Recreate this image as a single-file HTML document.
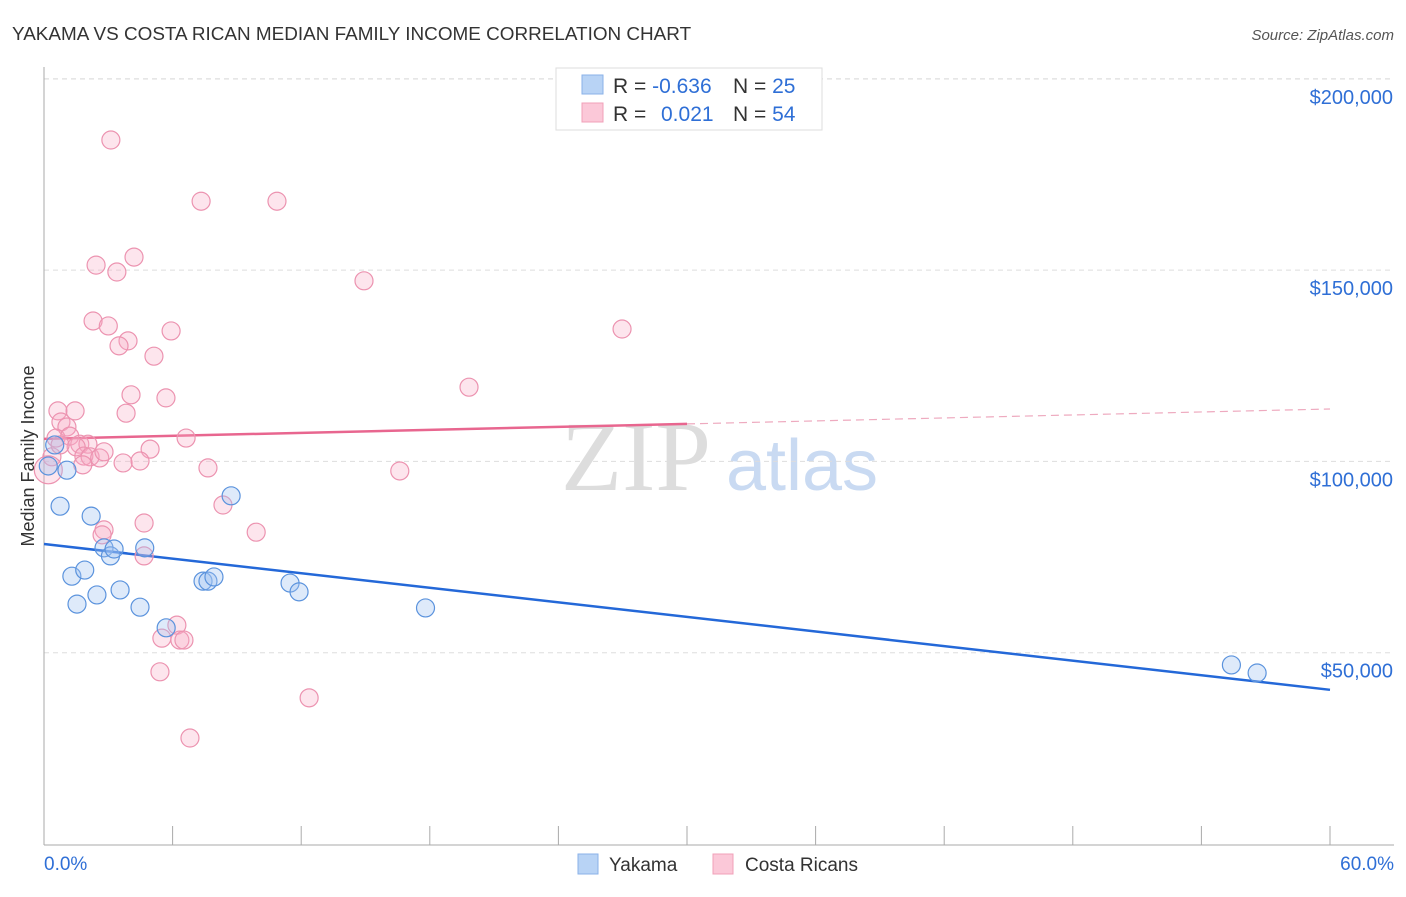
<!DOCTYPE html>
<html><head><meta charset="utf-8"><style>
body{margin:0;background:#fff;font-family:"Liberation Sans",Arial,sans-serif}
svg text{font-family:"Liberation Sans",Arial,sans-serif}
svg text.serif{font-family:"Liberation Serif",serif}
</style></head><body>
<svg id="c" width="1406" height="892" viewBox="0 0 1406 892">
<text x="12" y="40" font-size="18.9" fill="#333">YAKAMA VS COSTA RICAN MEDIAN FAMILY INCOME CORRELATION CHART</text>
<text x="1394" y="40" font-size="15" fill="#555" font-style="italic" text-anchor="end">Source: ZipAtlas.com</text>
<g><text class="serif" x="636" y="490" font-size="100" fill="#ddd" text-anchor="middle">ZIP</text><text x="802" y="490" font-size="72" fill="#c9daf2" text-anchor="middle">atlas</text></g>
<g id="grid"></g><g id="axes"></g><g id="trend"></g><g id="pts"></g>
<text transform="translate(34,456) rotate(-90)" font-size="18" fill="#333" text-anchor="middle">Median Family Income</text>
<g>
<rect x="556" y="68" width="266" height="62" fill="#fff" stroke="#ddd"/>
<rect x="582" y="75" width="21" height="19" fill="#b8d3f5" stroke="#8ab2e8"/>
<rect x="582" y="103" width="21" height="19" fill="#fbc8d8" stroke="#f0a0b8"/>
<text x="613" y="93" font-size="21" fill="#333">R = <tspan fill="#2f6fd6">-0.636</tspan></text>
<text x="733" y="93" font-size="21" fill="#333">N = <tspan fill="#2f6fd6">25</tspan></text>
<text x="613" y="121" font-size="21" fill="#333">R = <tspan fill="#2f6fd6" x="661">0.021</tspan></text>
<text x="733" y="121" font-size="21" fill="#333">N = <tspan fill="#2f6fd6">54</tspan></text>
</g>
<g>
<rect x="578" y="854" width="20" height="20" fill="#b8d3f5" stroke="#8ab2e8"/>
<text x="609" y="871" font-size="19" fill="#333">Yakama</text>
<rect x="713" y="854" width="20" height="20" fill="#fbc8d8" stroke="#f0a0b8"/>
<text x="745" y="871" font-size="19" fill="#333">Costa Ricans</text>
</g>
</svg>
<script>
const xTickLabels=["0.0%","60.0%"];
const yTicks=[50000,100000,150000,200000];
const yTickLabels=["$50,000","$100,000","$150,000","$200,000"];
const yakamaX=[0.2,0.5,0.75,1.07,1.3,1.54,1.9,2.2,2.47,2.8,3.1,3.27,3.55,4.48,4.7,5.7,7.42,7.65,7.93,8.73,11.48,11.9,17.8,55.4,56.6];
const yakamaY=[98800,104300,88300,97700,70000,62700,71600,85700,65100,77400,75300,77100,66400,61900,77400,56500,68700,68700,69800,91000,68200,65900,61700,46800,44700];
const costaX=[3.12,7.33,10.87,4.2,2.43,3.4,14.93,2.29,3.0,5.93,26.97,3.92,3.5,5.13,4.06,5.69,19.83,0.65,1.45,3.83,0.79,1.07,0.56,1.2,1.67,2.05,1.5,6.63,4.95,0.37,1.86,2.15,2.6,3.69,4.48,1.81,7.65,16.6,0.2,8.35,2.8,2.71,4.67,9.9,4.67,6.2,5.5,6.34,6.53,5.41,12.37,6.81,0.75,2.8];
const costaY=[184000,168000,168000,153400,151300,149500,147200,136700,135400,134100,134600,131500,130200,127500,117400,116600,119400,113200,113200,112600,110300,109000,106100,106600,104500,104500,103800,106100,103200,101200,101400,101200,100900,99600,100100,99100,98300,97500,97800,88600,82100,80800,83900,81500,75300,57200,53800,53300,53300,45000,38200,27700,104300,102500];
const yakamaTrend=[78400,40300];
const costaTrend=[105900,113700];
const NS="http://www.w3.org/2000/svg";
const X=v=>44+v*(1286/60), Y=v=>844-v*191.3/50000;
function mk(t,a,p){const e=document.createElementNS(NS,t);for(const k in a)e.setAttribute(k,a[k]);document.getElementById(p).appendChild(e);return e;}
yTicks.forEach((t,i)=>{
 const g=mk('line',{x1:44,x2:1394,y1:Y(t),y2:Y(t),stroke:'#ddd','stroke-dasharray':'5,4'},'grid');
 
 
 const l=mk('text',{x:1393,y:Y(t)+25,'font-size':20,fill:'#2f6fd6','text-anchor':'end'},'grid');l.textContent=yTickLabels[i];
 
 
});
const topLine=mk('line',{x1:44,x2:1394,y1:79,y2:79,stroke:'#ddd','stroke-dasharray':'5,4'},'grid');


const ax=mk('line',{x1:44,x2:1394,y1:845,y2:845,stroke:'#aaa'},'axes');


const ay=mk('line',{x1:44,x2:44,y1:67,y2:845,stroke:'#aaa'},'axes');


for(let i=0;i<=10;i++){const t=mk('line',{x1:X(i*6),x2:X(i*6),y1:826,y2:845,stroke:'#aaa'},'axes');
 
 }
[[0,'start',44],[60,'end',1394]].forEach((d,i)=>{const t=mk('text',{x:d[2],y:870,'font-size':19,fill:'#2f6fd6','text-anchor':d[1]},'axes');t.textContent=xTickLabels[i];
 
 });
const bt=mk('line',{x1:X(0),y1:Y(yakamaTrend[0]),x2:X(60),y2:Y(yakamaTrend[1]),stroke:'#2468d8','stroke-width':2.5},'trend');


const cm=costaTrend[0]+(costaTrend[1]-costaTrend[0])*0.5;
const pt=mk('line',{x1:X(0),y1:Y(costaTrend[0]),x2:X(30),y2:Y(cm),stroke:'#e8668f','stroke-width':2.5},'trend');


const pd=mk('line',{x1:X(30),y1:Y(cm),x2:X(60),y2:Y(costaTrend[1]),stroke:'#eeaabf','stroke-width':1.2,'stroke-dasharray':'8,5'},'trend');


costaX.forEach((x,i)=>{const c=mk('circle',{cx:X(x),cy:Y(costaY[i]),r:(i==38?14:9),fill:'rgba(248,170,195,0.3)',stroke:'#ec93b0','stroke-width':1.2},'pts');
 
 });
yakamaX.forEach((x,i)=>{const c=mk('circle',{cx:X(x),cy:Y(yakamaY[i]),r:9,fill:'rgba(160,195,240,0.35)',stroke:'#5b93dd','stroke-width':1.2},'pts');
 
 });
</script>
</body></html>
